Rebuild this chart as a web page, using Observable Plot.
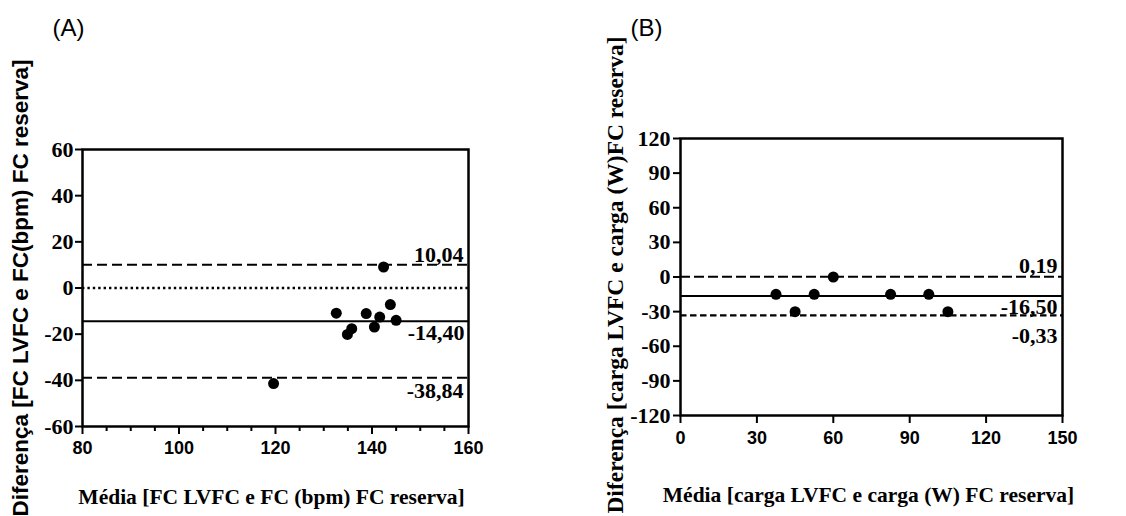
<!DOCTYPE html>
<html>
<head>
<meta charset="utf-8">
<script src="https://cdn.jsdelivr.net/npm/d3@7"></script>
<script src="https://cdn.jsdelivr.net/npm/@observablehq/plot@0.6"></script>
<style>
  html, body { margin: 0; padding: 0; background: #fff; }
  #wrap { display: flex; width: 1126px; height: 516px; }
</style>
</head>
<body>
<div id="wrap"></div>
<script>
// ---------- Panel A data ----------
const meanA = [119.6, 132.6, 134.9, 135.8, 138.8, 140.5, 141.6, 142.4, 143.8, 145.0];
const diffA = [-41.4, -10.9, -20.1, -17.6, -11.1, -16.9, -12.6, 9.1, -7.2, -14.0];
const linesA = [10.04, -14.40, -38.84];
const lineLabelsA = ["10,04", "-14,40", "-38,84"];
const zeroA = [0];
const xMajorTicksA = [80, 100, 120, 140, 160];
const xMinorTicksA = [85, 90, 95, 105, 110, 115, 125, 130, 135, 145, 150, 155];
const yTicksA = [-60, -40, -20, 0, 20, 40, 60];
const titleA = "(A)";
const xLabelA = "Média [FC LVFC e FC (bpm) FC reserva]";
const yLabelA = "Diferença [FC LVFC e FC(bpm) FC reserva]";

// ---------- Panel B data ----------
const meanB = [37.5, 45, 52.5, 60, 82.5, 97.5, 105];
const diffB = [-15, -30, -15, 0, -15, -15, -30];
const linesB = [0.19, -16.50, -33.19];
const lineLabelsB = ["0,19", "-16,50", "-0,33"];
const xTicksB = [0, 30, 60, 90, 120, 150];
const yTicksB = [-120, -90, -60, -30, 0, 30, 60, 90, 120];
const titleB = "(B)";
const xLabelB = "Média [carga LVFC e carga (W) FC reserva]";
const yLabelB = "Diferença [carga LVFC e carga (W)FC reserva]";

const SANS = "'Liberation Sans', Arial, sans-serif";
const SERIF = "'Liberation Serif', 'Times New Roman', serif";

const ptsA = meanA.map((m, i) => ({x: m, y: diffA[i]}));
const ptsB = meanB.map((m, i) => ({x: m, y: diffB[i]}));

const numStyle = {fontFamily: SERIF, fontWeight: "bold", fontSize: 22, fill: "#000"};

const plotA = Plot.plot({
  width: 560, height: 516,
  marginLeft: 82, marginRight: 92, marginTop: 149, marginBottom: 90,
  x: {domain: [80, 160]},
  y: {domain: [-60, 60]},
  style: {background: "#fff", color: "#000"},
  marks: [
    Plot.ruleY([linesA[0]], {stroke: "#000", strokeWidth: 2, strokeDasharray: "10,5"}),
    Plot.ruleY([linesA[2]], {stroke: "#000", strokeWidth: 2, strokeDasharray: "10,5"}),
    Plot.ruleY(zeroA, {stroke: "#000", strokeWidth: 2.6, strokeDasharray: "2.4,3"}),
    Plot.ruleY([linesA[1]], {stroke: "#000", strokeWidth: 2}),
    Plot.dot(ptsA, {x: "x", y: "y", r: 5.5, fill: "#000"}),
    Plot.text([0], {x: 160, y: linesA[0], text: () => lineLabelsA[0], textAnchor: "end", lineAnchor: "bottom", dx: -5, dy: -3, ...numStyle}),
    Plot.text([0], {x: 160, y: linesA[1], text: () => lineLabelsA[1], textAnchor: "end", lineAnchor: "top", dx: -4, dy: 3, ...numStyle}),
    Plot.text([0], {x: 160, y: linesA[2], text: () => lineLabelsA[2], textAnchor: "end", lineAnchor: "top", dx: -5, dy: 5, ...numStyle}),
    Plot.axisX({ticks: xMinorTicksA, tickSize: 5, strokeWidth: 2, text: null, label: null}),
    Plot.axisX({ticks: xMajorTicksA, tickSize: 8, strokeWidth: 2, text: null, label: null}),
    Plot.axisY({ticks: yTicksA, tickSize: 7, strokeWidth: 2, text: null, label: null}),
    Plot.text(xMajorTicksA, {x: d => d, frameAnchor: "bottom", text: d => String(d), textAnchor: "middle", lineAnchor: "middle", dy: 22, fontFamily: SANS, fontWeight: "bold", fontSize: 18, fill: "#000"}),
    Plot.text(yTicksA, {y: d => d, frameAnchor: "left", text: d => String(d), textAnchor: "end", lineAnchor: "middle", dx: -9, fontFamily: SERIF, fontWeight: "bold", fontSize: 22, fill: "#000"}),
    Plot.frame({stroke: "#000", strokeWidth: 2.5}),
    Plot.text([titleA], {frameAnchor: "top-left", textAnchor: "start", lineAnchor: "middle", dx: -30, dy: -121, fontFamily: SANS, fontSize: 24, fill: "#000"}),
    Plot.text([xLabelA], {frameAnchor: "bottom", textAnchor: "middle", lineAnchor: "middle", dx: -4, dy: 71, fontFamily: SERIF, fontWeight: "bold", fontSize: 21.5, fill: "#000"}),
    Plot.text([yLabelA], {frameAnchor: "left", textAnchor: "middle", lineAnchor: "middle", rotate: -90, dx: -62, dy: 0, fontFamily: SANS, fontWeight: "bold", fontSize: 22.5, fill: "#000"})
  ]
});

const plotB = Plot.plot({
  width: 566, height: 516,
  marginLeft: 120, marginRight: 64, marginTop: 138, marginBottom: 101,
  x: {domain: [0, 150]},
  y: {domain: [-120, 120]},
  style: {background: "#fff", color: "#000"},
  marks: [
    Plot.ruleY([linesB[0]], {stroke: "#000", strokeWidth: 2, strokeDasharray: "10,4"}),
    Plot.ruleY([linesB[2]], {stroke: "#000", strokeWidth: 2.2, strokeDasharray: "6.5,3.5"}),
    Plot.ruleY([linesB[1]], {stroke: "#000", strokeWidth: 2}),
    Plot.dot(ptsB, {x: "x", y: "y", r: 5.5, fill: "#000"}),
    Plot.text([0], {x: 150, y: linesB[0], text: () => lineLabelsB[0], textAnchor: "end", lineAnchor: "bottom", dx: -5, dy: -4, ...numStyle}),
    Plot.text([0], {x: 150, y: linesB[1], text: () => lineLabelsB[1], textAnchor: "end", lineAnchor: "top", dx: -5, dy: 2, ...numStyle}),
    Plot.text([0], {x: 150, y: linesB[2], text: () => lineLabelsB[2], textAnchor: "end", lineAnchor: "top", dx: -5, dy: 12, ...numStyle}),
    Plot.axisX({ticks: xTicksB, tickSize: 8, strokeWidth: 2, text: null, label: null}),
    Plot.axisY({ticks: yTicksB, tickSize: 7, strokeWidth: 2, text: null, label: null}),
    Plot.text(xTicksB, {x: d => d, frameAnchor: "bottom", text: d => String(d), textAnchor: "middle", lineAnchor: "middle", dy: 23, fontFamily: SANS, fontWeight: "bold", fontSize: 18, fill: "#000"}),
    Plot.text(yTicksB, {y: d => d, frameAnchor: "left", text: d => String(d), textAnchor: "end", lineAnchor: "middle", dx: -10, fontFamily: SERIF, fontWeight: "bold", fontSize: 22, fill: "#000"}),
    Plot.frame({stroke: "#000", strokeWidth: 2.5}),
    Plot.text([titleB], {frameAnchor: "top-left", textAnchor: "start", lineAnchor: "middle", dx: -50, dy: -110, fontFamily: SANS, fontSize: 24, fill: "#000"}),
    Plot.text([xLabelB], {frameAnchor: "bottom", textAnchor: "middle", lineAnchor: "middle", dx: -3, dy: 80, fontFamily: SERIF, fontWeight: "bold", fontSize: 21.5, fill: "#000"}),
    Plot.text([yLabelB], {frameAnchor: "left", textAnchor: "middle", lineAnchor: "middle", rotate: -90, dx: -65, dy: -2, fontFamily: SERIF, fontWeight: "bold", fontSize: 23.5, fill: "#000"})
  ]
});

const wrap = document.getElementById("wrap");
wrap.appendChild(plotA);
wrap.appendChild(plotB);
</script>
</body>
</html>
